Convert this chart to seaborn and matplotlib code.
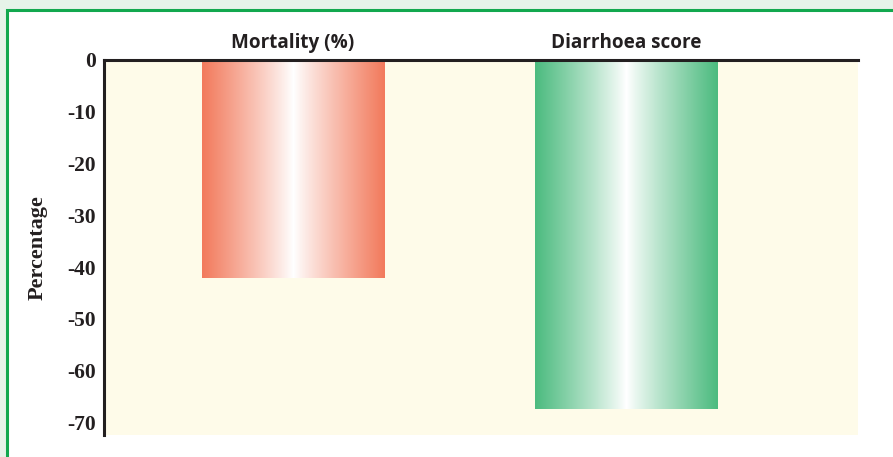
import numpy as np
import pandas as pd
import matplotlib
matplotlib.use("Agg")
import matplotlib.pyplot as plt
import seaborn as sns
from matplotlib.colors import LinearSegmentedColormap
from matplotlib.patches import Rectangle

# data
categories = ["Mortality (%)", "Diarrhoea score"]
values = [-42.0, -67.3]
bar_edge_colors = ["#f27a5c", "#4cbb7f"]
yticks = [0, -10, -20, -30, -40, -50, -60, -70]

df = pd.DataFrame({"category": categories, "value": values})

sns.set_style("white")
fig = plt.figure(figsize=(8.93, 4.57), dpi=100)
fig.patch.set_facecolor("#e6f3e9")

# white panel with green frame
panel = Rectangle((7 / 893, -0.1), 1.1, 1 - 10 / 457 + 0.1, transform=fig.transFigure,
                  facecolor="white", edgecolor="#12a84e", linewidth=2.2, zorder=-10)
fig.patches.append(panel)

ax = fig.add_axes([104 / 893, 1 - 435 / 457, (858 - 104) / 893, (435 - 60) / 457])
ax.set_facecolor("#fefbe9")

sns.barplot(data=df, x="category", y="value", ax=ax, width=0.547,
            color="white", saturation=1, edgecolor="none", linewidth=0)

# gradient fill for each bar: colour at edges fading to white in the middle
grad = np.abs(np.linspace(-1, 1, 256)) ** 0.9
grad = grad[np.newaxis, :]
for patch, col in zip(ax.patches, bar_edge_colors):
    x0, y0 = patch.get_x(), patch.get_y()
    w, h = patch.get_width(), patch.get_height()
    cmap = LinearSegmentedColormap.from_list("g", ["white", col])
    ax.imshow(grad, cmap=cmap, aspect="auto", extent=(x0, x0 + w, y0 + h, y0),
              interpolation="bilinear", zorder=2)

ax.set_xlim(-0.568, 1.697)
ax.set_ylim(-72.4, 0)
ax.set_yticks(yticks)
ax.set_yticklabels([str(t) for t in yticks], fontfamily="Liberation Serif",
                   fontweight="bold", fontsize=15.5, color="#231f20")
ax.tick_params(axis="y", length=0, pad=6)
ax.xaxis.tick_top()
ax.set_xticks([0, 1])
ax.set_xticklabels(categories, fontfamily="Open Sans", fontweight="bold",
                   fontsize=13.6, color="#231f20")
ax.tick_params(axis="x", length=0, pad=5)
ax.set_xlabel("")
ax.set_ylabel("Percentage", fontfamily="Liberation Serif", fontweight="bold",
              fontsize=16, labelpad=14, color="#231f20")

for s in ["bottom", "right"]:
    ax.spines[s].set_visible(False)
for s in ["top", "left"]:
    ax.spines[s].set_visible(True)
    ax.spines[s].set_color("#231f20")
    ax.spines[s].set_linewidth(2.2)
    ax.spines[s].set_zorder(5)

fig.savefig("out.png", dpi=100, facecolor=fig.get_facecolor())
